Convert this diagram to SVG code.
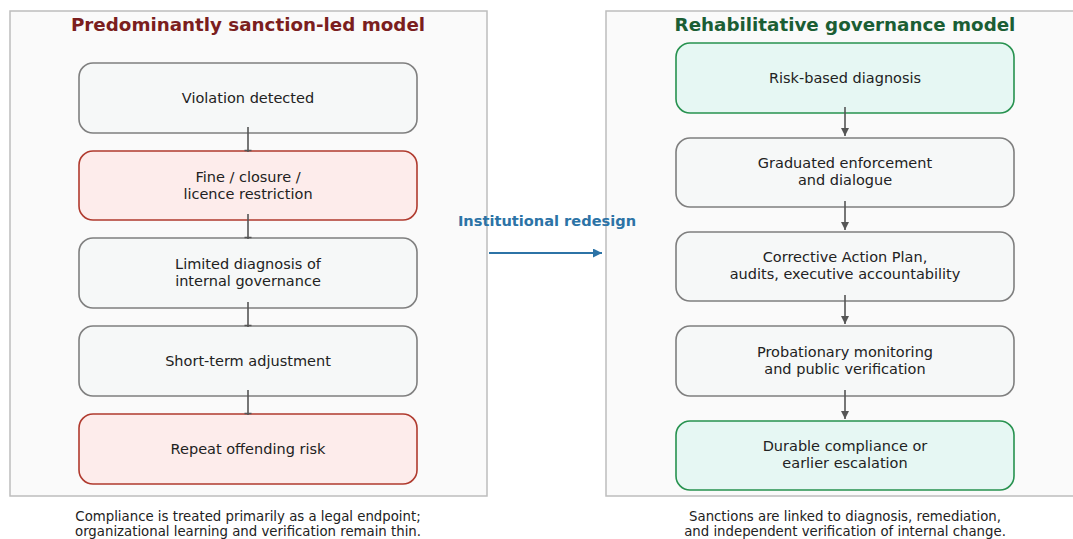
<svg xmlns="http://www.w3.org/2000/svg" width="1073" height="539" viewBox="0 0 1073 539">
  <style>
    .panel { fill: #fafafa; stroke: #bdbdbd; stroke-width: 1.5; }
    .box { stroke-width: 1.6; }
    .neutral { fill: #f6f8f8; stroke: #7f7f7f; }
    .red { fill: #fdeceb; stroke: #b03a2e; }
    .green { fill: #e6f7f3; stroke: #27924f; }
    .label { font-family: "DejaVu Sans", sans-serif; font-size: 14.5px; fill: #222; text-anchor: middle; }
    .title { font-family: "DejaVu Sans", sans-serif; font-size: 18.3px; font-weight: bold; text-anchor: middle; }
    .caption { font-family: "DejaVu Sans", sans-serif; font-size: 13.3px; fill: #222; text-anchor: middle; }
    .conn { stroke: #555; stroke-width: 1.6; fill: none; }
  </style>
  <defs>
    <marker id="arr" viewBox="0 0 10 10" refX="10" refY="5" markerWidth="5" markerHeight="5" orient="auto" markerUnits="strokeWidth">
      <path d="M0,0 L10,5 L0,10 z" fill="#555"/>
    </marker>
    <marker id="arrBlue" viewBox="0 0 10 10" refX="10" refY="5" markerWidth="4.5" markerHeight="4.5" orient="auto" markerUnits="strokeWidth">
      <path d="M0,0 L10,5 L0,10 z" fill="#2c73a6"/>
    </marker>
  </defs>

  <rect width="1073" height="539" fill="#ffffff"/>

  <!-- panels -->
  <rect class="panel" x="10" y="11" width="477" height="485"/>
  <rect class="panel" x="606" y="11" width="475" height="485"/>

  <text class="title" x="248" y="31" fill="#7b1e1e">Predominantly sanction-led model</text>
  <text class="title" x="845" y="31" fill="#1b5e34">Rehabilitative governance model</text>

  <!-- left column -->
  <g id="violation">
    <rect class="box neutral" x="79" y="63" width="338" height="70" rx="14"/>
    <text class="label" x="248" y="103">Violation detected</text>
  </g>
  <g id="fine">
    <rect class="box red" x="79" y="151" width="338" height="69" rx="14"/>
    <text class="label" x="248" y="182">Fine / closure /</text>
    <text class="label" x="248" y="199">licence restriction</text>
  </g>
  <g id="limited-diagnosis">
    <rect class="box neutral" x="79" y="238" width="338" height="70" rx="14"/>
    <text class="label" x="248" y="269">Limited diagnosis of</text>
    <text class="label" x="248" y="286">internal governance</text>
  </g>
  <g id="short-term">
    <rect class="box neutral" x="79" y="326" width="338" height="70" rx="14"/>
    <text class="label" x="248" y="366">Short-term adjustment</text>
  </g>
  <g id="repeat-risk">
    <rect class="box red" x="79" y="414" width="338" height="70" rx="14"/>
    <text class="label" x="248" y="454">Repeat offending risk</text>
  </g>

  <!-- right column -->
  <g id="risk-diagnosis">
    <rect class="box green" x="676" y="43" width="338" height="70" rx="14"/>
    <text class="label" x="845" y="83">Risk-based diagnosis</text>
  </g>
  <g id="graduated">
    <rect class="box neutral" x="676" y="138" width="338" height="69" rx="14"/>
    <text class="label" x="845" y="168">Graduated enforcement</text>
    <text class="label" x="845" y="185">and dialogue</text>
  </g>
  <g id="cap">
    <rect class="box neutral" x="676" y="232" width="338" height="69" rx="14"/>
    <text class="label" x="845" y="262">Corrective Action Plan,</text>
    <text class="label" x="845" y="279">audits, executive accountability</text>
  </g>
  <g id="probation">
    <rect class="box neutral" x="676" y="326" width="338" height="70" rx="14"/>
    <text class="label" x="845" y="357">Probationary monitoring</text>
    <text class="label" x="845" y="374">and public verification</text>
  </g>
  <g id="durable">
    <rect class="box green" x="676" y="421" width="338" height="69" rx="14"/>
    <text class="label" x="845" y="451">Durable compliance or</text>
    <text class="label" x="845" y="468">earlier escalation</text>
  </g>

  <!-- connectors -->
  <g id="connectors">
    <path class="conn" d="M248,127 V152"/>
    <path class="conn" d="M248,214 V239"/>
    <path class="conn" d="M248,302 V327"/>
    <path class="conn" d="M248,390 V415"/>
    <path d="M244.5,150.5 H251.5 M244.5,237.5 H251.5 M244.5,325.5 H251.5 M244.5,413.5 H251.5" stroke="#555" stroke-width="1.5"/>
    <path class="conn" d="M845,107 V136" marker-end="url(#arr)"/>
    <path class="conn" d="M845,201 V230" marker-end="url(#arr)"/>
    <path class="conn" d="M845,295 V324" marker-end="url(#arr)"/>
    <path class="conn" d="M845,390 V419" marker-end="url(#arr)"/>
    <path d="M489,253 H602" stroke="#2c73a6" stroke-width="2" fill="none" marker-end="url(#arrBlue)"/>
    <text x="547" y="226" font-family="DejaVu Sans, sans-serif" font-size="14.6" font-weight="bold" fill="#2c73a6" text-anchor="middle">Institutional redesign</text>
  </g>

  <!-- captions -->
  <text class="caption" x="248" y="521">Compliance is treated primarily as a legal endpoint;</text>
  <text class="caption" x="248" y="536">organizational learning and verification remain thin.</text>
  <text class="caption" x="845" y="521">Sanctions are linked to diagnosis, remediation,</text>
  <text class="caption" x="845" y="536">and independent verification of internal change.</text>
</svg>
